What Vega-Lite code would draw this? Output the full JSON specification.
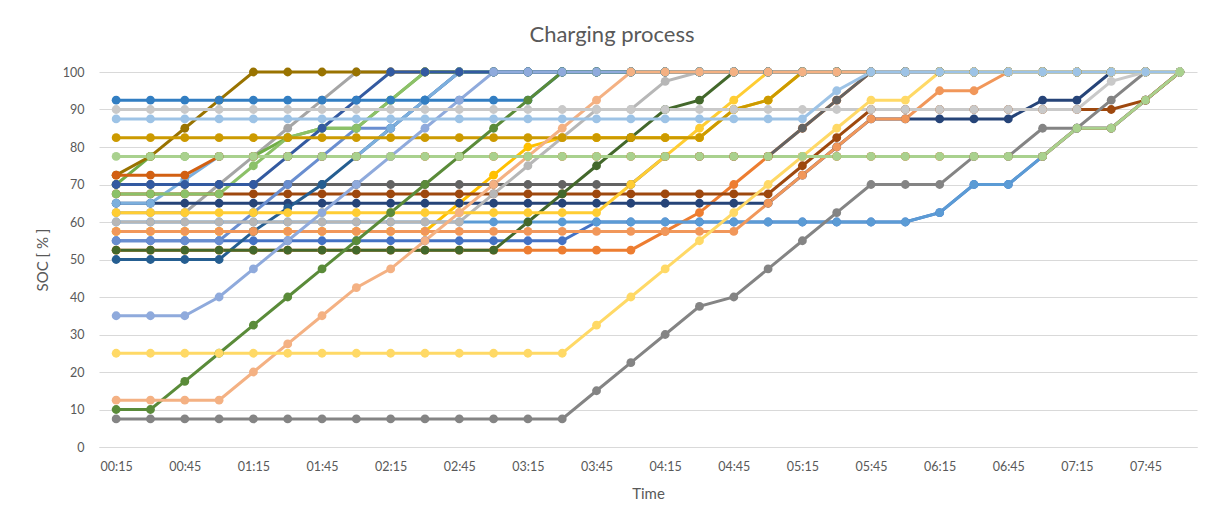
{
"$schema":"https://vega.github.io/schema/vega-lite/v6.json",
"width":1098,"height":375,
"autosize":{"type":"none"},
"padding":{"left":99,"top":72,"right":17,"bottom":77},
"background":"white",
"config":{"view":{"stroke":null},"font":"Lato"},
"title":{"text":"Charging process","fontSize":22,"font":"Lato","fontWeight":"normal","color":"#595959","anchor":"middle","dx":-36,"offset":19},
"data":{"values":[
{"sid":"S01","time":"00:15","soc":55},{"sid":"S01","time":"00:30","soc":55},{"sid":"S01","time":"00:45","soc":55},{"sid":"S01","time":"01:00","soc":55},{"sid":"S01","time":"01:15","soc":55},{"sid":"S01","time":"01:30","soc":55},{"sid":"S01","time":"01:45","soc":55},{"sid":"S01","time":"02:00","soc":55},{"sid":"S01","time":"02:15","soc":55},{"sid":"S01","time":"02:30","soc":55},{"sid":"S01","time":"02:45","soc":55},{"sid":"S01","time":"03:00","soc":55},{"sid":"S01","time":"03:15","soc":55},{"sid":"S01","time":"03:30","soc":55},{"sid":"S01","time":"03:45","soc":60},{"sid":"S01","time":"04:00","soc":60},{"sid":"S01","time":"04:15","soc":60},{"sid":"S01","time":"04:30","soc":60},{"sid":"S01","time":"04:45","soc":60},{"sid":"S01","time":"05:00","soc":60},{"sid":"S01","time":"05:15","soc":60},{"sid":"S01","time":"05:30","soc":60},{"sid":"S01","time":"05:45","soc":60},{"sid":"S01","time":"06:00","soc":60},{"sid":"S01","time":"06:15","soc":62.5},{"sid":"S01","time":"06:30","soc":70},{"sid":"S01","time":"06:45","soc":70},{"sid":"S01","time":"07:00","soc":77.5},{"sid":"S01","time":"07:15","soc":85},{"sid":"S01","time":"07:30","soc":85},{"sid":"S01","time":"07:45","soc":92.5},{"sid":"S01","time":"08:00","soc":100},
{"sid":"S02","time":"00:15","soc":52.5},{"sid":"S02","time":"00:30","soc":52.5},{"sid":"S02","time":"00:45","soc":52.5},{"sid":"S02","time":"01:00","soc":52.5},{"sid":"S02","time":"01:15","soc":52.5},{"sid":"S02","time":"01:30","soc":52.5},{"sid":"S02","time":"01:45","soc":52.5},{"sid":"S02","time":"02:00","soc":52.5},{"sid":"S02","time":"02:15","soc":52.5},{"sid":"S02","time":"02:30","soc":52.5},{"sid":"S02","time":"02:45","soc":52.5},{"sid":"S02","time":"03:00","soc":52.5},{"sid":"S02","time":"03:15","soc":52.5},{"sid":"S02","time":"03:30","soc":52.5},{"sid":"S02","time":"03:45","soc":52.5},{"sid":"S02","time":"04:00","soc":52.5},{"sid":"S02","time":"04:15","soc":57.5},{"sid":"S02","time":"04:30","soc":62.5},{"sid":"S02","time":"04:45","soc":70},{"sid":"S02","time":"05:00","soc":77.5},{"sid":"S02","time":"05:15","soc":85},{"sid":"S02","time":"05:30","soc":92.5},{"sid":"S02","time":"05:45","soc":100},{"sid":"S02","time":"06:00","soc":100},{"sid":"S02","time":"06:15","soc":100},{"sid":"S02","time":"06:30","soc":100},{"sid":"S02","time":"06:45","soc":100},{"sid":"S02","time":"07:00","soc":100},{"sid":"S02","time":"07:15","soc":100},{"sid":"S02","time":"07:30","soc":100},{"sid":"S02","time":"07:45","soc":100},{"sid":"S02","time":"08:00","soc":100},
{"sid":"S03","time":"00:15","soc":62.5},{"sid":"S03","time":"00:30","soc":62.5},{"sid":"S03","time":"00:45","soc":62.5},{"sid":"S03","time":"01:00","soc":70},{"sid":"S03","time":"01:15","soc":77.5},{"sid":"S03","time":"01:30","soc":85},{"sid":"S03","time":"01:45","soc":92.5},{"sid":"S03","time":"02:00","soc":100},{"sid":"S03","time":"02:15","soc":100},{"sid":"S03","time":"02:30","soc":100},{"sid":"S03","time":"02:45","soc":100},{"sid":"S03","time":"03:00","soc":100},{"sid":"S03","time":"03:15","soc":100},{"sid":"S03","time":"03:30","soc":100},{"sid":"S03","time":"03:45","soc":100},{"sid":"S03","time":"04:00","soc":100},{"sid":"S03","time":"04:15","soc":100},{"sid":"S03","time":"04:30","soc":100},{"sid":"S03","time":"04:45","soc":100},{"sid":"S03","time":"05:00","soc":100},{"sid":"S03","time":"05:15","soc":100},{"sid":"S03","time":"05:30","soc":100},{"sid":"S03","time":"05:45","soc":100},{"sid":"S03","time":"06:00","soc":100},{"sid":"S03","time":"06:15","soc":100},{"sid":"S03","time":"06:30","soc":100},{"sid":"S03","time":"06:45","soc":100},{"sid":"S03","time":"07:00","soc":100},{"sid":"S03","time":"07:15","soc":100},{"sid":"S03","time":"07:30","soc":100},{"sid":"S03","time":"07:45","soc":100},{"sid":"S03","time":"08:00","soc":100},
{"sid":"S04","time":"00:15","soc":57.5},{"sid":"S04","time":"00:30","soc":57.5},{"sid":"S04","time":"00:45","soc":57.5},{"sid":"S04","time":"01:00","soc":57.5},{"sid":"S04","time":"01:15","soc":57.5},{"sid":"S04","time":"01:30","soc":57.5},{"sid":"S04","time":"01:45","soc":57.5},{"sid":"S04","time":"02:00","soc":57.5},{"sid":"S04","time":"02:15","soc":57.5},{"sid":"S04","time":"02:30","soc":57.5},{"sid":"S04","time":"02:45","soc":65},{"sid":"S04","time":"03:00","soc":72.5},{"sid":"S04","time":"03:15","soc":80},{"sid":"S04","time":"03:30","soc":82.5},{"sid":"S04","time":"03:45","soc":82.5},{"sid":"S04","time":"04:00","soc":82.5},{"sid":"S04","time":"04:15","soc":82.5},{"sid":"S04","time":"04:30","soc":82.5},{"sid":"S04","time":"04:45","soc":90},{"sid":"S04","time":"05:00","soc":92.5},{"sid":"S04","time":"05:15","soc":100},{"sid":"S04","time":"05:30","soc":100},{"sid":"S04","time":"05:45","soc":100},{"sid":"S04","time":"06:00","soc":100},{"sid":"S04","time":"06:15","soc":100},{"sid":"S04","time":"06:30","soc":100},{"sid":"S04","time":"06:45","soc":100},{"sid":"S04","time":"07:00","soc":100},{"sid":"S04","time":"07:15","soc":100},{"sid":"S04","time":"07:30","soc":100},{"sid":"S04","time":"07:45","soc":100},{"sid":"S04","time":"08:00","soc":100},
{"sid":"S05","time":"00:15","soc":60},{"sid":"S05","time":"00:30","soc":60},{"sid":"S05","time":"00:45","soc":60},{"sid":"S05","time":"01:00","soc":60},{"sid":"S05","time":"01:15","soc":60},{"sid":"S05","time":"01:30","soc":60},{"sid":"S05","time":"01:45","soc":60},{"sid":"S05","time":"02:00","soc":60},{"sid":"S05","time":"02:15","soc":60},{"sid":"S05","time":"02:30","soc":60},{"sid":"S05","time":"02:45","soc":60},{"sid":"S05","time":"03:00","soc":60},{"sid":"S05","time":"03:15","soc":60},{"sid":"S05","time":"03:30","soc":60},{"sid":"S05","time":"03:45","soc":60},{"sid":"S05","time":"04:00","soc":60},{"sid":"S05","time":"04:15","soc":60},{"sid":"S05","time":"04:30","soc":60},{"sid":"S05","time":"04:45","soc":60},{"sid":"S05","time":"05:00","soc":60},{"sid":"S05","time":"05:15","soc":60},{"sid":"S05","time":"05:30","soc":60},{"sid":"S05","time":"05:45","soc":60},{"sid":"S05","time":"06:00","soc":60},{"sid":"S05","time":"06:15","soc":62.5},{"sid":"S05","time":"06:30","soc":70},{"sid":"S05","time":"06:45","soc":70},{"sid":"S05","time":"07:00","soc":77.5},{"sid":"S05","time":"07:15","soc":85},{"sid":"S05","time":"07:30","soc":85},{"sid":"S05","time":"07:45","soc":92.5},{"sid":"S05","time":"08:00","soc":100},
{"sid":"S06","time":"00:15","soc":70},{"sid":"S06","time":"00:30","soc":77.5},{"sid":"S06","time":"00:45","soc":77.5},{"sid":"S06","time":"01:00","soc":77.5},{"sid":"S06","time":"01:15","soc":77.5},{"sid":"S06","time":"01:30","soc":82.5},{"sid":"S06","time":"01:45","soc":85},{"sid":"S06","time":"02:00","soc":85},{"sid":"S06","time":"02:15","soc":92.5},{"sid":"S06","time":"02:30","soc":100},{"sid":"S06","time":"02:45","soc":100},{"sid":"S06","time":"03:00","soc":100},{"sid":"S06","time":"03:15","soc":100},{"sid":"S06","time":"03:30","soc":100},{"sid":"S06","time":"03:45","soc":100},{"sid":"S06","time":"04:00","soc":100},{"sid":"S06","time":"04:15","soc":100},{"sid":"S06","time":"04:30","soc":100},{"sid":"S06","time":"04:45","soc":100},{"sid":"S06","time":"05:00","soc":100},{"sid":"S06","time":"05:15","soc":100},{"sid":"S06","time":"05:30","soc":100},{"sid":"S06","time":"05:45","soc":100},{"sid":"S06","time":"06:00","soc":100},{"sid":"S06","time":"06:15","soc":100},{"sid":"S06","time":"06:30","soc":100},{"sid":"S06","time":"06:45","soc":100},{"sid":"S06","time":"07:00","soc":100},{"sid":"S06","time":"07:15","soc":100},{"sid":"S06","time":"07:30","soc":100},{"sid":"S06","time":"07:45","soc":100},{"sid":"S06","time":"08:00","soc":100},
{"sid":"S07","time":"00:15","soc":65},{"sid":"S07","time":"00:30","soc":65},{"sid":"S07","time":"00:45","soc":65},{"sid":"S07","time":"01:00","soc":65},{"sid":"S07","time":"01:15","soc":65},{"sid":"S07","time":"01:30","soc":65},{"sid":"S07","time":"01:45","soc":65},{"sid":"S07","time":"02:00","soc":65},{"sid":"S07","time":"02:15","soc":65},{"sid":"S07","time":"02:30","soc":65},{"sid":"S07","time":"02:45","soc":65},{"sid":"S07","time":"03:00","soc":65},{"sid":"S07","time":"03:15","soc":65},{"sid":"S07","time":"03:30","soc":65},{"sid":"S07","time":"03:45","soc":65},{"sid":"S07","time":"04:00","soc":65},{"sid":"S07","time":"04:15","soc":65},{"sid":"S07","time":"04:30","soc":65},{"sid":"S07","time":"04:45","soc":65},{"sid":"S07","time":"05:00","soc":65},{"sid":"S07","time":"05:15","soc":72.5},{"sid":"S07","time":"05:30","soc":80},{"sid":"S07","time":"05:45","soc":87.5},{"sid":"S07","time":"06:00","soc":87.5},{"sid":"S07","time":"06:15","soc":87.5},{"sid":"S07","time":"06:30","soc":87.5},{"sid":"S07","time":"06:45","soc":87.5},{"sid":"S07","time":"07:00","soc":92.5},{"sid":"S07","time":"07:15","soc":92.5},{"sid":"S07","time":"07:30","soc":100},{"sid":"S07","time":"07:45","soc":100},{"sid":"S07","time":"08:00","soc":100},
{"sid":"S08","time":"00:15","soc":67.5},{"sid":"S08","time":"00:30","soc":67.5},{"sid":"S08","time":"00:45","soc":67.5},{"sid":"S08","time":"01:00","soc":67.5},{"sid":"S08","time":"01:15","soc":67.5},{"sid":"S08","time":"01:30","soc":67.5},{"sid":"S08","time":"01:45","soc":67.5},{"sid":"S08","time":"02:00","soc":67.5},{"sid":"S08","time":"02:15","soc":67.5},{"sid":"S08","time":"02:30","soc":67.5},{"sid":"S08","time":"02:45","soc":67.5},{"sid":"S08","time":"03:00","soc":67.5},{"sid":"S08","time":"03:15","soc":67.5},{"sid":"S08","time":"03:30","soc":67.5},{"sid":"S08","time":"03:45","soc":67.5},{"sid":"S08","time":"04:00","soc":67.5},{"sid":"S08","time":"04:15","soc":67.5},{"sid":"S08","time":"04:30","soc":67.5},{"sid":"S08","time":"04:45","soc":67.5},{"sid":"S08","time":"05:00","soc":67.5},{"sid":"S08","time":"05:15","soc":75},{"sid":"S08","time":"05:30","soc":82.5},{"sid":"S08","time":"05:45","soc":90},{"sid":"S08","time":"06:00","soc":90},{"sid":"S08","time":"06:15","soc":90},{"sid":"S08","time":"06:30","soc":90},{"sid":"S08","time":"06:45","soc":90},{"sid":"S08","time":"07:00","soc":90},{"sid":"S08","time":"07:15","soc":90},{"sid":"S08","time":"07:30","soc":90},{"sid":"S08","time":"07:45","soc":92.5},{"sid":"S08","time":"08:00","soc":100},
{"sid":"S09","time":"00:15","soc":70},{"sid":"S09","time":"00:30","soc":70},{"sid":"S09","time":"00:45","soc":70},{"sid":"S09","time":"01:00","soc":70},{"sid":"S09","time":"01:15","soc":70},{"sid":"S09","time":"01:30","soc":70},{"sid":"S09","time":"01:45","soc":70},{"sid":"S09","time":"02:00","soc":70},{"sid":"S09","time":"02:15","soc":70},{"sid":"S09","time":"02:30","soc":70},{"sid":"S09","time":"02:45","soc":70},{"sid":"S09","time":"03:00","soc":70},{"sid":"S09","time":"03:15","soc":70},{"sid":"S09","time":"03:30","soc":70},{"sid":"S09","time":"03:45","soc":70},{"sid":"S09","time":"04:00","soc":70},{"sid":"S09","time":"04:15","soc":77.5},{"sid":"S09","time":"04:30","soc":77.5},{"sid":"S09","time":"04:45","soc":77.5},{"sid":"S09","time":"05:00","soc":77.5},{"sid":"S09","time":"05:15","soc":85},{"sid":"S09","time":"05:30","soc":92.5},{"sid":"S09","time":"05:45","soc":100},{"sid":"S09","time":"06:00","soc":100},{"sid":"S09","time":"06:15","soc":100},{"sid":"S09","time":"06:30","soc":100},{"sid":"S09","time":"06:45","soc":100},{"sid":"S09","time":"07:00","soc":100},{"sid":"S09","time":"07:15","soc":100},{"sid":"S09","time":"07:30","soc":100},{"sid":"S09","time":"07:45","soc":100},{"sid":"S09","time":"08:00","soc":100},
{"sid":"S10","time":"00:15","soc":72.5},{"sid":"S10","time":"00:30","soc":77.5},{"sid":"S10","time":"00:45","soc":85},{"sid":"S10","time":"01:00","soc":92.5},{"sid":"S10","time":"01:15","soc":100},{"sid":"S10","time":"01:30","soc":100},{"sid":"S10","time":"01:45","soc":100},{"sid":"S10","time":"02:00","soc":100},{"sid":"S10","time":"02:15","soc":100},{"sid":"S10","time":"02:30","soc":100},{"sid":"S10","time":"02:45","soc":100},{"sid":"S10","time":"03:00","soc":100},{"sid":"S10","time":"03:15","soc":100},{"sid":"S10","time":"03:30","soc":100},{"sid":"S10","time":"03:45","soc":100},{"sid":"S10","time":"04:00","soc":100},{"sid":"S10","time":"04:15","soc":100},{"sid":"S10","time":"04:30","soc":100},{"sid":"S10","time":"04:45","soc":100},{"sid":"S10","time":"05:00","soc":100},{"sid":"S10","time":"05:15","soc":100},{"sid":"S10","time":"05:30","soc":100},{"sid":"S10","time":"05:45","soc":100},{"sid":"S10","time":"06:00","soc":100},{"sid":"S10","time":"06:15","soc":100},{"sid":"S10","time":"06:30","soc":100},{"sid":"S10","time":"06:45","soc":100},{"sid":"S10","time":"07:00","soc":100},{"sid":"S10","time":"07:15","soc":100},{"sid":"S10","time":"07:30","soc":100},{"sid":"S10","time":"07:45","soc":100},{"sid":"S10","time":"08:00","soc":100},
{"sid":"S11","time":"00:15","soc":50},{"sid":"S11","time":"00:30","soc":50},{"sid":"S11","time":"00:45","soc":50},{"sid":"S11","time":"01:00","soc":50},{"sid":"S11","time":"01:15","soc":57.5},{"sid":"S11","time":"01:30","soc":63.75},{"sid":"S11","time":"01:45","soc":70},{"sid":"S11","time":"02:00","soc":77.5},{"sid":"S11","time":"02:15","soc":85},{"sid":"S11","time":"02:30","soc":92.5},{"sid":"S11","time":"02:45","soc":100},{"sid":"S11","time":"03:00","soc":100},{"sid":"S11","time":"03:15","soc":100},{"sid":"S11","time":"03:30","soc":100},{"sid":"S11","time":"03:45","soc":100},{"sid":"S11","time":"04:00","soc":100},{"sid":"S11","time":"04:15","soc":100},{"sid":"S11","time":"04:30","soc":100},{"sid":"S11","time":"04:45","soc":100},{"sid":"S11","time":"05:00","soc":100},{"sid":"S11","time":"05:15","soc":100},{"sid":"S11","time":"05:30","soc":100},{"sid":"S11","time":"05:45","soc":100},{"sid":"S11","time":"06:00","soc":100},{"sid":"S11","time":"06:15","soc":100},{"sid":"S11","time":"06:30","soc":100},{"sid":"S11","time":"06:45","soc":100},{"sid":"S11","time":"07:00","soc":100},{"sid":"S11","time":"07:15","soc":100},{"sid":"S11","time":"07:30","soc":100},{"sid":"S11","time":"07:45","soc":100},{"sid":"S11","time":"08:00","soc":100},
{"sid":"S12","time":"00:15","soc":52.5},{"sid":"S12","time":"00:30","soc":52.5},{"sid":"S12","time":"00:45","soc":52.5},{"sid":"S12","time":"01:00","soc":52.5},{"sid":"S12","time":"01:15","soc":52.5},{"sid":"S12","time":"01:30","soc":52.5},{"sid":"S12","time":"01:45","soc":52.5},{"sid":"S12","time":"02:00","soc":52.5},{"sid":"S12","time":"02:15","soc":52.5},{"sid":"S12","time":"02:30","soc":52.5},{"sid":"S12","time":"02:45","soc":52.5},{"sid":"S12","time":"03:00","soc":52.5},{"sid":"S12","time":"03:15","soc":60},{"sid":"S12","time":"03:30","soc":67.5},{"sid":"S12","time":"03:45","soc":75},{"sid":"S12","time":"04:00","soc":82.5},{"sid":"S12","time":"04:15","soc":90},{"sid":"S12","time":"04:30","soc":92.5},{"sid":"S12","time":"04:45","soc":100},{"sid":"S12","time":"05:00","soc":100},{"sid":"S12","time":"05:15","soc":100},{"sid":"S12","time":"05:30","soc":100},{"sid":"S12","time":"05:45","soc":100},{"sid":"S12","time":"06:00","soc":100},{"sid":"S12","time":"06:15","soc":100},{"sid":"S12","time":"06:30","soc":100},{"sid":"S12","time":"06:45","soc":100},{"sid":"S12","time":"07:00","soc":100},{"sid":"S12","time":"07:15","soc":100},{"sid":"S12","time":"07:30","soc":100},{"sid":"S12","time":"07:45","soc":100},{"sid":"S12","time":"08:00","soc":100},
{"sid":"S13","time":"00:15","soc":55},{"sid":"S13","time":"00:30","soc":55},{"sid":"S13","time":"00:45","soc":55},{"sid":"S13","time":"01:00","soc":55},{"sid":"S13","time":"01:15","soc":62.5},{"sid":"S13","time":"01:30","soc":70},{"sid":"S13","time":"01:45","soc":77.5},{"sid":"S13","time":"02:00","soc":85},{"sid":"S13","time":"02:15","soc":85},{"sid":"S13","time":"02:30","soc":92.5},{"sid":"S13","time":"02:45","soc":100},{"sid":"S13","time":"03:00","soc":100},{"sid":"S13","time":"03:15","soc":100},{"sid":"S13","time":"03:30","soc":100},{"sid":"S13","time":"03:45","soc":100},{"sid":"S13","time":"04:00","soc":100},{"sid":"S13","time":"04:15","soc":100},{"sid":"S13","time":"04:30","soc":100},{"sid":"S13","time":"04:45","soc":100},{"sid":"S13","time":"05:00","soc":100},{"sid":"S13","time":"05:15","soc":100},{"sid":"S13","time":"05:30","soc":100},{"sid":"S13","time":"05:45","soc":100},{"sid":"S13","time":"06:00","soc":100},{"sid":"S13","time":"06:15","soc":100},{"sid":"S13","time":"06:30","soc":100},{"sid":"S13","time":"06:45","soc":100},{"sid":"S13","time":"07:00","soc":100},{"sid":"S13","time":"07:15","soc":100},{"sid":"S13","time":"07:30","soc":100},{"sid":"S13","time":"07:45","soc":100},{"sid":"S13","time":"08:00","soc":100},
{"sid":"S14","time":"00:15","soc":57.5},{"sid":"S14","time":"00:30","soc":57.5},{"sid":"S14","time":"00:45","soc":57.5},{"sid":"S14","time":"01:00","soc":57.5},{"sid":"S14","time":"01:15","soc":57.5},{"sid":"S14","time":"01:30","soc":57.5},{"sid":"S14","time":"01:45","soc":57.5},{"sid":"S14","time":"02:00","soc":57.5},{"sid":"S14","time":"02:15","soc":57.5},{"sid":"S14","time":"02:30","soc":57.5},{"sid":"S14","time":"02:45","soc":57.5},{"sid":"S14","time":"03:00","soc":57.5},{"sid":"S14","time":"03:15","soc":57.5},{"sid":"S14","time":"03:30","soc":57.5},{"sid":"S14","time":"03:45","soc":57.5},{"sid":"S14","time":"04:00","soc":57.5},{"sid":"S14","time":"04:15","soc":57.5},{"sid":"S14","time":"04:30","soc":57.5},{"sid":"S14","time":"04:45","soc":57.5},{"sid":"S14","time":"05:00","soc":65},{"sid":"S14","time":"05:15","soc":72.5},{"sid":"S14","time":"05:30","soc":80},{"sid":"S14","time":"05:45","soc":87.5},{"sid":"S14","time":"06:00","soc":87.5},{"sid":"S14","time":"06:15","soc":95},{"sid":"S14","time":"06:30","soc":95},{"sid":"S14","time":"06:45","soc":100},{"sid":"S14","time":"07:00","soc":100},{"sid":"S14","time":"07:15","soc":100},{"sid":"S14","time":"07:30","soc":100},{"sid":"S14","time":"07:45","soc":100},{"sid":"S14","time":"08:00","soc":100},
{"sid":"S15","time":"00:15","soc":60},{"sid":"S15","time":"00:30","soc":60},{"sid":"S15","time":"00:45","soc":60},{"sid":"S15","time":"01:00","soc":60},{"sid":"S15","time":"01:15","soc":60},{"sid":"S15","time":"01:30","soc":60},{"sid":"S15","time":"01:45","soc":60},{"sid":"S15","time":"02:00","soc":60},{"sid":"S15","time":"02:15","soc":60},{"sid":"S15","time":"02:30","soc":60},{"sid":"S15","time":"02:45","soc":60},{"sid":"S15","time":"03:00","soc":67.5},{"sid":"S15","time":"03:15","soc":75},{"sid":"S15","time":"03:30","soc":82.5},{"sid":"S15","time":"03:45","soc":90},{"sid":"S15","time":"04:00","soc":90},{"sid":"S15","time":"04:15","soc":97.5},{"sid":"S15","time":"04:30","soc":100},{"sid":"S15","time":"04:45","soc":100},{"sid":"S15","time":"05:00","soc":100},{"sid":"S15","time":"05:15","soc":100},{"sid":"S15","time":"05:30","soc":100},{"sid":"S15","time":"05:45","soc":100},{"sid":"S15","time":"06:00","soc":100},{"sid":"S15","time":"06:15","soc":100},{"sid":"S15","time":"06:30","soc":100},{"sid":"S15","time":"06:45","soc":100},{"sid":"S15","time":"07:00","soc":100},{"sid":"S15","time":"07:15","soc":100},{"sid":"S15","time":"07:30","soc":100},{"sid":"S15","time":"07:45","soc":100},{"sid":"S15","time":"08:00","soc":100},
{"sid":"S16","time":"00:15","soc":62.5},{"sid":"S16","time":"00:30","soc":62.5},{"sid":"S16","time":"00:45","soc":62.5},{"sid":"S16","time":"01:00","soc":62.5},{"sid":"S16","time":"01:15","soc":62.5},{"sid":"S16","time":"01:30","soc":62.5},{"sid":"S16","time":"01:45","soc":62.5},{"sid":"S16","time":"02:00","soc":62.5},{"sid":"S16","time":"02:15","soc":62.5},{"sid":"S16","time":"02:30","soc":62.5},{"sid":"S16","time":"02:45","soc":62.5},{"sid":"S16","time":"03:00","soc":62.5},{"sid":"S16","time":"03:15","soc":62.5},{"sid":"S16","time":"03:30","soc":62.5},{"sid":"S16","time":"03:45","soc":62.5},{"sid":"S16","time":"04:00","soc":70},{"sid":"S16","time":"04:15","soc":77.5},{"sid":"S16","time":"04:30","soc":85},{"sid":"S16","time":"04:45","soc":92.5},{"sid":"S16","time":"05:00","soc":100},{"sid":"S16","time":"05:15","soc":100},{"sid":"S16","time":"05:30","soc":100},{"sid":"S16","time":"05:45","soc":100},{"sid":"S16","time":"06:00","soc":100},{"sid":"S16","time":"06:15","soc":100},{"sid":"S16","time":"06:30","soc":100},{"sid":"S16","time":"06:45","soc":100},{"sid":"S16","time":"07:00","soc":100},{"sid":"S16","time":"07:15","soc":100},{"sid":"S16","time":"07:30","soc":100},{"sid":"S16","time":"07:45","soc":100},{"sid":"S16","time":"08:00","soc":100},
{"sid":"S17","time":"00:15","soc":65},{"sid":"S17","time":"00:30","soc":65},{"sid":"S17","time":"00:45","soc":71.25},{"sid":"S17","time":"01:00","soc":77.5},{"sid":"S17","time":"01:15","soc":77.5},{"sid":"S17","time":"01:30","soc":77.5},{"sid":"S17","time":"01:45","soc":77.5},{"sid":"S17","time":"02:00","soc":77.5},{"sid":"S17","time":"02:15","soc":85},{"sid":"S17","time":"02:30","soc":92.5},{"sid":"S17","time":"02:45","soc":100},{"sid":"S17","time":"03:00","soc":100},{"sid":"S17","time":"03:15","soc":100},{"sid":"S17","time":"03:30","soc":100},{"sid":"S17","time":"03:45","soc":100},{"sid":"S17","time":"04:00","soc":100},{"sid":"S17","time":"04:15","soc":100},{"sid":"S17","time":"04:30","soc":100},{"sid":"S17","time":"04:45","soc":100},{"sid":"S17","time":"05:00","soc":100},{"sid":"S17","time":"05:15","soc":100},{"sid":"S17","time":"05:30","soc":100},{"sid":"S17","time":"05:45","soc":100},{"sid":"S17","time":"06:00","soc":100},{"sid":"S17","time":"06:15","soc":100},{"sid":"S17","time":"06:30","soc":100},{"sid":"S17","time":"06:45","soc":100},{"sid":"S17","time":"07:00","soc":100},{"sid":"S17","time":"07:15","soc":100},{"sid":"S17","time":"07:30","soc":100},{"sid":"S17","time":"07:45","soc":100},{"sid":"S17","time":"08:00","soc":100},
{"sid":"S18","time":"00:15","soc":67.5},{"sid":"S18","time":"00:30","soc":67.5},{"sid":"S18","time":"00:45","soc":67.5},{"sid":"S18","time":"01:00","soc":67.5},{"sid":"S18","time":"01:15","soc":75},{"sid":"S18","time":"01:30","soc":82.5},{"sid":"S18","time":"01:45","soc":85},{"sid":"S18","time":"02:00","soc":85},{"sid":"S18","time":"02:15","soc":92.5},{"sid":"S18","time":"02:30","soc":100},{"sid":"S18","time":"02:45","soc":100},{"sid":"S18","time":"03:00","soc":100},{"sid":"S18","time":"03:15","soc":100},{"sid":"S18","time":"03:30","soc":100},{"sid":"S18","time":"03:45","soc":100},{"sid":"S18","time":"04:00","soc":100},{"sid":"S18","time":"04:15","soc":100},{"sid":"S18","time":"04:30","soc":100},{"sid":"S18","time":"04:45","soc":100},{"sid":"S18","time":"05:00","soc":100},{"sid":"S18","time":"05:15","soc":100},{"sid":"S18","time":"05:30","soc":100},{"sid":"S18","time":"05:45","soc":100},{"sid":"S18","time":"06:00","soc":100},{"sid":"S18","time":"06:15","soc":100},{"sid":"S18","time":"06:30","soc":100},{"sid":"S18","time":"06:45","soc":100},{"sid":"S18","time":"07:00","soc":100},{"sid":"S18","time":"07:15","soc":100},{"sid":"S18","time":"07:30","soc":100},{"sid":"S18","time":"07:45","soc":100},{"sid":"S18","time":"08:00","soc":100},
{"sid":"S19","time":"00:15","soc":70},{"sid":"S19","time":"00:30","soc":70},{"sid":"S19","time":"00:45","soc":70},{"sid":"S19","time":"01:00","soc":70},{"sid":"S19","time":"01:15","soc":70},{"sid":"S19","time":"01:30","soc":77.5},{"sid":"S19","time":"01:45","soc":85},{"sid":"S19","time":"02:00","soc":92.5},{"sid":"S19","time":"02:15","soc":100},{"sid":"S19","time":"02:30","soc":100},{"sid":"S19","time":"02:45","soc":100},{"sid":"S19","time":"03:00","soc":100},{"sid":"S19","time":"03:15","soc":100},{"sid":"S19","time":"03:30","soc":100},{"sid":"S19","time":"03:45","soc":100},{"sid":"S19","time":"04:00","soc":100},{"sid":"S19","time":"04:15","soc":100},{"sid":"S19","time":"04:30","soc":100},{"sid":"S19","time":"04:45","soc":100},{"sid":"S19","time":"05:00","soc":100},{"sid":"S19","time":"05:15","soc":100},{"sid":"S19","time":"05:30","soc":100},{"sid":"S19","time":"05:45","soc":100},{"sid":"S19","time":"06:00","soc":100},{"sid":"S19","time":"06:15","soc":100},{"sid":"S19","time":"06:30","soc":100},{"sid":"S19","time":"06:45","soc":100},{"sid":"S19","time":"07:00","soc":100},{"sid":"S19","time":"07:15","soc":100},{"sid":"S19","time":"07:30","soc":100},{"sid":"S19","time":"07:45","soc":100},{"sid":"S19","time":"08:00","soc":100},
{"sid":"S20","time":"00:15","soc":72.5},{"sid":"S20","time":"00:30","soc":72.5},{"sid":"S20","time":"00:45","soc":72.5},{"sid":"S20","time":"01:00","soc":77.5},{"sid":"S20","time":"01:15","soc":77.5},{"sid":"S20","time":"01:30","soc":77.5},{"sid":"S20","time":"01:45","soc":77.5},{"sid":"S20","time":"02:00","soc":77.5},{"sid":"S20","time":"02:15","soc":77.5},{"sid":"S20","time":"02:30","soc":77.5},{"sid":"S20","time":"02:45","soc":77.5},{"sid":"S20","time":"03:00","soc":77.5},{"sid":"S20","time":"03:15","soc":77.5},{"sid":"S20","time":"03:30","soc":77.5},{"sid":"S20","time":"03:45","soc":77.5},{"sid":"S20","time":"04:00","soc":77.5},{"sid":"S20","time":"04:15","soc":77.5},{"sid":"S20","time":"04:30","soc":77.5},{"sid":"S20","time":"04:45","soc":77.5},{"sid":"S20","time":"05:00","soc":77.5},{"sid":"S20","time":"05:15","soc":77.5},{"sid":"S20","time":"05:30","soc":77.5},{"sid":"S20","time":"05:45","soc":77.5},{"sid":"S20","time":"06:00","soc":77.5},{"sid":"S20","time":"06:15","soc":77.5},{"sid":"S20","time":"06:30","soc":77.5},{"sid":"S20","time":"06:45","soc":77.5},{"sid":"S20","time":"07:00","soc":77.5},{"sid":"S20","time":"07:15","soc":85},{"sid":"S20","time":"07:30","soc":85},{"sid":"S20","time":"07:45","soc":92.5},{"sid":"S20","time":"08:00","soc":100},
{"sid":"S21","time":"00:15","soc":7.5},{"sid":"S21","time":"00:30","soc":7.5},{"sid":"S21","time":"00:45","soc":7.5},{"sid":"S21","time":"01:00","soc":7.5},{"sid":"S21","time":"01:15","soc":7.5},{"sid":"S21","time":"01:30","soc":7.5},{"sid":"S21","time":"01:45","soc":7.5},{"sid":"S21","time":"02:00","soc":7.5},{"sid":"S21","time":"02:15","soc":7.5},{"sid":"S21","time":"02:30","soc":7.5},{"sid":"S21","time":"02:45","soc":7.5},{"sid":"S21","time":"03:00","soc":7.5},{"sid":"S21","time":"03:15","soc":7.5},{"sid":"S21","time":"03:30","soc":7.5},{"sid":"S21","time":"03:45","soc":15},{"sid":"S21","time":"04:00","soc":22.5},{"sid":"S21","time":"04:15","soc":30},{"sid":"S21","time":"04:30","soc":37.5},{"sid":"S21","time":"04:45","soc":40},{"sid":"S21","time":"05:00","soc":47.5},{"sid":"S21","time":"05:15","soc":55},{"sid":"S21","time":"05:30","soc":62.5},{"sid":"S21","time":"05:45","soc":70},{"sid":"S21","time":"06:00","soc":70},{"sid":"S21","time":"06:15","soc":70},{"sid":"S21","time":"06:30","soc":77.5},{"sid":"S21","time":"06:45","soc":77.5},{"sid":"S21","time":"07:00","soc":85},{"sid":"S21","time":"07:15","soc":85},{"sid":"S21","time":"07:30","soc":92.5},{"sid":"S21","time":"07:45","soc":100},{"sid":"S21","time":"08:00","soc":100},
{"sid":"S22","time":"00:15","soc":82.5},{"sid":"S22","time":"00:30","soc":82.5},{"sid":"S22","time":"00:45","soc":82.5},{"sid":"S22","time":"01:00","soc":82.5},{"sid":"S22","time":"01:15","soc":82.5},{"sid":"S22","time":"01:30","soc":82.5},{"sid":"S22","time":"01:45","soc":82.5},{"sid":"S22","time":"02:00","soc":82.5},{"sid":"S22","time":"02:15","soc":82.5},{"sid":"S22","time":"02:30","soc":82.5},{"sid":"S22","time":"02:45","soc":82.5},{"sid":"S22","time":"03:00","soc":82.5},{"sid":"S22","time":"03:15","soc":82.5},{"sid":"S22","time":"03:30","soc":82.5},{"sid":"S22","time":"03:45","soc":82.5},{"sid":"S22","time":"04:00","soc":82.5},{"sid":"S22","time":"04:15","soc":82.5},{"sid":"S22","time":"04:30","soc":82.5},{"sid":"S22","time":"04:45","soc":90},{"sid":"S22","time":"05:00","soc":92.5},{"sid":"S22","time":"05:15","soc":100},{"sid":"S22","time":"05:30","soc":100},{"sid":"S22","time":"05:45","soc":100},{"sid":"S22","time":"06:00","soc":100},{"sid":"S22","time":"06:15","soc":100},{"sid":"S22","time":"06:30","soc":100},{"sid":"S22","time":"06:45","soc":100},{"sid":"S22","time":"07:00","soc":100},{"sid":"S22","time":"07:15","soc":100},{"sid":"S22","time":"07:30","soc":100},{"sid":"S22","time":"07:45","soc":100},{"sid":"S22","time":"08:00","soc":100},
{"sid":"S23","time":"00:15","soc":92.5},{"sid":"S23","time":"00:30","soc":92.5},{"sid":"S23","time":"00:45","soc":92.5},{"sid":"S23","time":"01:00","soc":92.5},{"sid":"S23","time":"01:15","soc":92.5},{"sid":"S23","time":"01:30","soc":92.5},{"sid":"S23","time":"01:45","soc":92.5},{"sid":"S23","time":"02:00","soc":92.5},{"sid":"S23","time":"02:15","soc":92.5},{"sid":"S23","time":"02:30","soc":92.5},{"sid":"S23","time":"02:45","soc":92.5},{"sid":"S23","time":"03:00","soc":92.5},{"sid":"S23","time":"03:15","soc":92.5},{"sid":"S23","time":"03:30","soc":100},{"sid":"S23","time":"03:45","soc":100},{"sid":"S23","time":"04:00","soc":100},{"sid":"S23","time":"04:15","soc":100},{"sid":"S23","time":"04:30","soc":100},{"sid":"S23","time":"04:45","soc":100},{"sid":"S23","time":"05:00","soc":100},{"sid":"S23","time":"05:15","soc":100},{"sid":"S23","time":"05:30","soc":100},{"sid":"S23","time":"05:45","soc":100},{"sid":"S23","time":"06:00","soc":100},{"sid":"S23","time":"06:15","soc":100},{"sid":"S23","time":"06:30","soc":100},{"sid":"S23","time":"06:45","soc":100},{"sid":"S23","time":"07:00","soc":100},{"sid":"S23","time":"07:15","soc":100},{"sid":"S23","time":"07:30","soc":100},{"sid":"S23","time":"07:45","soc":100},{"sid":"S23","time":"08:00","soc":100},
{"sid":"S24","time":"00:15","soc":10},{"sid":"S24","time":"00:30","soc":10},{"sid":"S24","time":"00:45","soc":17.5},{"sid":"S24","time":"01:00","soc":25},{"sid":"S24","time":"01:15","soc":32.5},{"sid":"S24","time":"01:30","soc":40},{"sid":"S24","time":"01:45","soc":47.5},{"sid":"S24","time":"02:00","soc":55},{"sid":"S24","time":"02:15","soc":62.5},{"sid":"S24","time":"02:30","soc":70},{"sid":"S24","time":"02:45","soc":77.5},{"sid":"S24","time":"03:00","soc":85},{"sid":"S24","time":"03:15","soc":92.5},{"sid":"S24","time":"03:30","soc":100},{"sid":"S24","time":"03:45","soc":100},{"sid":"S24","time":"04:00","soc":100},{"sid":"S24","time":"04:15","soc":100},{"sid":"S24","time":"04:30","soc":100},{"sid":"S24","time":"04:45","soc":100},{"sid":"S24","time":"05:00","soc":100},{"sid":"S24","time":"05:15","soc":100},{"sid":"S24","time":"05:30","soc":100},{"sid":"S24","time":"05:45","soc":100},{"sid":"S24","time":"06:00","soc":100},{"sid":"S24","time":"06:15","soc":100},{"sid":"S24","time":"06:30","soc":100},{"sid":"S24","time":"06:45","soc":100},{"sid":"S24","time":"07:00","soc":100},{"sid":"S24","time":"07:15","soc":100},{"sid":"S24","time":"07:30","soc":100},{"sid":"S24","time":"07:45","soc":100},{"sid":"S24","time":"08:00","soc":100},
{"sid":"S25","time":"00:15","soc":35},{"sid":"S25","time":"00:30","soc":35},{"sid":"S25","time":"00:45","soc":35},{"sid":"S25","time":"01:00","soc":40},{"sid":"S25","time":"01:15","soc":47.5},{"sid":"S25","time":"01:30","soc":55},{"sid":"S25","time":"01:45","soc":62.5},{"sid":"S25","time":"02:00","soc":70},{"sid":"S25","time":"02:15","soc":77.5},{"sid":"S25","time":"02:30","soc":85},{"sid":"S25","time":"02:45","soc":92.5},{"sid":"S25","time":"03:00","soc":100},{"sid":"S25","time":"03:15","soc":100},{"sid":"S25","time":"03:30","soc":100},{"sid":"S25","time":"03:45","soc":100},{"sid":"S25","time":"04:00","soc":100},{"sid":"S25","time":"04:15","soc":100},{"sid":"S25","time":"04:30","soc":100},{"sid":"S25","time":"04:45","soc":100},{"sid":"S25","time":"05:00","soc":100},{"sid":"S25","time":"05:15","soc":100},{"sid":"S25","time":"05:30","soc":100},{"sid":"S25","time":"05:45","soc":100},{"sid":"S25","time":"06:00","soc":100},{"sid":"S25","time":"06:15","soc":100},{"sid":"S25","time":"06:30","soc":100},{"sid":"S25","time":"06:45","soc":100},{"sid":"S25","time":"07:00","soc":100},{"sid":"S25","time":"07:15","soc":100},{"sid":"S25","time":"07:30","soc":100},{"sid":"S25","time":"07:45","soc":100},{"sid":"S25","time":"08:00","soc":100},
{"sid":"S26","time":"00:15","soc":12.5},{"sid":"S26","time":"00:30","soc":12.5},{"sid":"S26","time":"00:45","soc":12.5},{"sid":"S26","time":"01:00","soc":12.5},{"sid":"S26","time":"01:15","soc":20},{"sid":"S26","time":"01:30","soc":27.5},{"sid":"S26","time":"01:45","soc":35},{"sid":"S26","time":"02:00","soc":42.5},{"sid":"S26","time":"02:15","soc":47.5},{"sid":"S26","time":"02:30","soc":55},{"sid":"S26","time":"02:45","soc":62.5},{"sid":"S26","time":"03:00","soc":70},{"sid":"S26","time":"03:15","soc":77.5},{"sid":"S26","time":"03:30","soc":85},{"sid":"S26","time":"03:45","soc":92.5},{"sid":"S26","time":"04:00","soc":100},{"sid":"S26","time":"04:15","soc":100},{"sid":"S26","time":"04:30","soc":100},{"sid":"S26","time":"04:45","soc":100},{"sid":"S26","time":"05:00","soc":100},{"sid":"S26","time":"05:15","soc":100},{"sid":"S26","time":"05:30","soc":100},{"sid":"S26","time":"05:45","soc":100},{"sid":"S26","time":"06:00","soc":100},{"sid":"S26","time":"06:15","soc":100},{"sid":"S26","time":"06:30","soc":100},{"sid":"S26","time":"06:45","soc":100},{"sid":"S26","time":"07:00","soc":100},{"sid":"S26","time":"07:15","soc":100},{"sid":"S26","time":"07:30","soc":100},{"sid":"S26","time":"07:45","soc":100},{"sid":"S26","time":"08:00","soc":100},
{"sid":"S27","time":"00:15","soc":90},{"sid":"S27","time":"00:30","soc":90},{"sid":"S27","time":"00:45","soc":90},{"sid":"S27","time":"01:00","soc":90},{"sid":"S27","time":"01:15","soc":90},{"sid":"S27","time":"01:30","soc":90},{"sid":"S27","time":"01:45","soc":90},{"sid":"S27","time":"02:00","soc":90},{"sid":"S27","time":"02:15","soc":90},{"sid":"S27","time":"02:30","soc":90},{"sid":"S27","time":"02:45","soc":90},{"sid":"S27","time":"03:00","soc":90},{"sid":"S27","time":"03:15","soc":90},{"sid":"S27","time":"03:30","soc":90},{"sid":"S27","time":"03:45","soc":90},{"sid":"S27","time":"04:00","soc":90},{"sid":"S27","time":"04:15","soc":90},{"sid":"S27","time":"04:30","soc":90},{"sid":"S27","time":"04:45","soc":90},{"sid":"S27","time":"05:00","soc":90},{"sid":"S27","time":"05:15","soc":90},{"sid":"S27","time":"05:30","soc":90},{"sid":"S27","time":"05:45","soc":90},{"sid":"S27","time":"06:00","soc":90},{"sid":"S27","time":"06:15","soc":90},{"sid":"S27","time":"06:30","soc":90},{"sid":"S27","time":"06:45","soc":90},{"sid":"S27","time":"07:00","soc":90},{"sid":"S27","time":"07:15","soc":90},{"sid":"S27","time":"07:30","soc":97.5},{"sid":"S27","time":"07:45","soc":100},{"sid":"S27","time":"08:00","soc":100},
{"sid":"S28","time":"00:15","soc":25},{"sid":"S28","time":"00:30","soc":25},{"sid":"S28","time":"00:45","soc":25},{"sid":"S28","time":"01:00","soc":25},{"sid":"S28","time":"01:15","soc":25},{"sid":"S28","time":"01:30","soc":25},{"sid":"S28","time":"01:45","soc":25},{"sid":"S28","time":"02:00","soc":25},{"sid":"S28","time":"02:15","soc":25},{"sid":"S28","time":"02:30","soc":25},{"sid":"S28","time":"02:45","soc":25},{"sid":"S28","time":"03:00","soc":25},{"sid":"S28","time":"03:15","soc":25},{"sid":"S28","time":"03:30","soc":25},{"sid":"S28","time":"03:45","soc":32.5},{"sid":"S28","time":"04:00","soc":40},{"sid":"S28","time":"04:15","soc":47.5},{"sid":"S28","time":"04:30","soc":55},{"sid":"S28","time":"04:45","soc":62.5},{"sid":"S28","time":"05:00","soc":70},{"sid":"S28","time":"05:15","soc":77.5},{"sid":"S28","time":"05:30","soc":85},{"sid":"S28","time":"05:45","soc":92.5},{"sid":"S28","time":"06:00","soc":92.5},{"sid":"S28","time":"06:15","soc":100},{"sid":"S28","time":"06:30","soc":100},{"sid":"S28","time":"06:45","soc":100},{"sid":"S28","time":"07:00","soc":100},{"sid":"S28","time":"07:15","soc":100},{"sid":"S28","time":"07:30","soc":100},{"sid":"S28","time":"07:45","soc":100},{"sid":"S28","time":"08:00","soc":100},
{"sid":"S29","time":"00:15","soc":87.5},{"sid":"S29","time":"00:30","soc":87.5},{"sid":"S29","time":"00:45","soc":87.5},{"sid":"S29","time":"01:00","soc":87.5},{"sid":"S29","time":"01:15","soc":87.5},{"sid":"S29","time":"01:30","soc":87.5},{"sid":"S29","time":"01:45","soc":87.5},{"sid":"S29","time":"02:00","soc":87.5},{"sid":"S29","time":"02:15","soc":87.5},{"sid":"S29","time":"02:30","soc":87.5},{"sid":"S29","time":"02:45","soc":87.5},{"sid":"S29","time":"03:00","soc":87.5},{"sid":"S29","time":"03:15","soc":87.5},{"sid":"S29","time":"03:30","soc":87.5},{"sid":"S29","time":"03:45","soc":87.5},{"sid":"S29","time":"04:00","soc":87.5},{"sid":"S29","time":"04:15","soc":87.5},{"sid":"S29","time":"04:30","soc":87.5},{"sid":"S29","time":"04:45","soc":87.5},{"sid":"S29","time":"05:00","soc":87.5},{"sid":"S29","time":"05:15","soc":87.5},{"sid":"S29","time":"05:30","soc":95},{"sid":"S29","time":"05:45","soc":100},{"sid":"S29","time":"06:00","soc":100},{"sid":"S29","time":"06:15","soc":100},{"sid":"S29","time":"06:30","soc":100},{"sid":"S29","time":"06:45","soc":100},{"sid":"S29","time":"07:00","soc":100},{"sid":"S29","time":"07:15","soc":100},{"sid":"S29","time":"07:30","soc":100},{"sid":"S29","time":"07:45","soc":100},{"sid":"S29","time":"08:00","soc":100},
{"sid":"S30","time":"00:15","soc":77.5},{"sid":"S30","time":"00:30","soc":77.5},{"sid":"S30","time":"00:45","soc":77.5},{"sid":"S30","time":"01:00","soc":77.5},{"sid":"S30","time":"01:15","soc":77.5},{"sid":"S30","time":"01:30","soc":77.5},{"sid":"S30","time":"01:45","soc":77.5},{"sid":"S30","time":"02:00","soc":77.5},{"sid":"S30","time":"02:15","soc":77.5},{"sid":"S30","time":"02:30","soc":77.5},{"sid":"S30","time":"02:45","soc":77.5},{"sid":"S30","time":"03:00","soc":77.5},{"sid":"S30","time":"03:15","soc":77.5},{"sid":"S30","time":"03:30","soc":77.5},{"sid":"S30","time":"03:45","soc":77.5},{"sid":"S30","time":"04:00","soc":77.5},{"sid":"S30","time":"04:15","soc":77.5},{"sid":"S30","time":"04:30","soc":77.5},{"sid":"S30","time":"04:45","soc":77.5},{"sid":"S30","time":"05:00","soc":77.5},{"sid":"S30","time":"05:15","soc":77.5},{"sid":"S30","time":"05:30","soc":77.5},{"sid":"S30","time":"05:45","soc":77.5},{"sid":"S30","time":"06:00","soc":77.5},{"sid":"S30","time":"06:15","soc":77.5},{"sid":"S30","time":"06:30","soc":77.5},{"sid":"S30","time":"06:45","soc":77.5},{"sid":"S30","time":"07:00","soc":77.5},{"sid":"S30","time":"07:15","soc":85},{"sid":"S30","time":"07:30","soc":85},{"sid":"S30","time":"07:45","soc":92.5},{"sid":"S30","time":"08:00","soc":100}
]},
"encoding":{
"x":{"field":"time","type":"ordinal","scale":{"type":"point","padding":0.5},
"axis":{"title":"Time","values":["00:15","00:45","01:15","01:45","02:15","02:45","03:15","03:45","04:15","04:45","05:15","05:45","06:15","06:45","07:15","07:45"],"labelAngle":0,"ticks":false,"domain":true,"domainColor":"#D9D9D9","grid":false,"labelColor":"#595959","labelFontSize":12.5,"labelFont":"Lato","labelPadding":13,"titleColor":"#595959","titleFontSize":15,"titleFont":"Lato","titleFontWeight":"normal","titlePadding":14}},
"y":{"field":"soc","type":"quantitative","scale":{"domain":[0,100]},
"axis":{"title":"SOC [ % ]","values":[0,10,20,30,40,50,60,70,80,90,100],"ticks":false,"domain":false,"grid":true,"gridColor":"#D9D9D9","gridWidth":1,"labelColor":"#595959","labelFontSize":12.5,"labelFont":"Lato","labelPadding":15,"titleColor":"#595959","titleFontSize":15,"titleFont":"Lato","titleFontWeight":"normal","titlePadding":12}},
"color":{"field":"sid","type":"nominal","legend":null,
"scale":{"domain":["S01","S02","S03","S04","S05","S06","S07","S08","S09","S10","S11","S12","S13","S14","S15","S16","S17","S18","S19","S20","S21","S22","S23","S24","S25","S26","S27","S28","S29","S30"],
"range":["#4472C4","#ED7D31","#A5A5A5","#FFC000","#5B9BD5","#70AD47","#264478","#9E480E","#636363","#997300","#255E91","#43682B","#698ED0","#F1975A","#B7B7B7","#FFCD33","#7CAFDD","#8CC168","#335AA1","#D26012","#848484","#CC9A00","#327EC2","#5A8B39","#8FAADC","#F4B183","#C9C9C9","#FFD966","#9DC3E6","#A9D18E"]}}
},
"layer":[
{"mark":{"type":"line","strokeWidth":3}},
{"mark":{"type":"point","shape":"circle","filled":true,"size":78,"opacity":1}}
]
}
